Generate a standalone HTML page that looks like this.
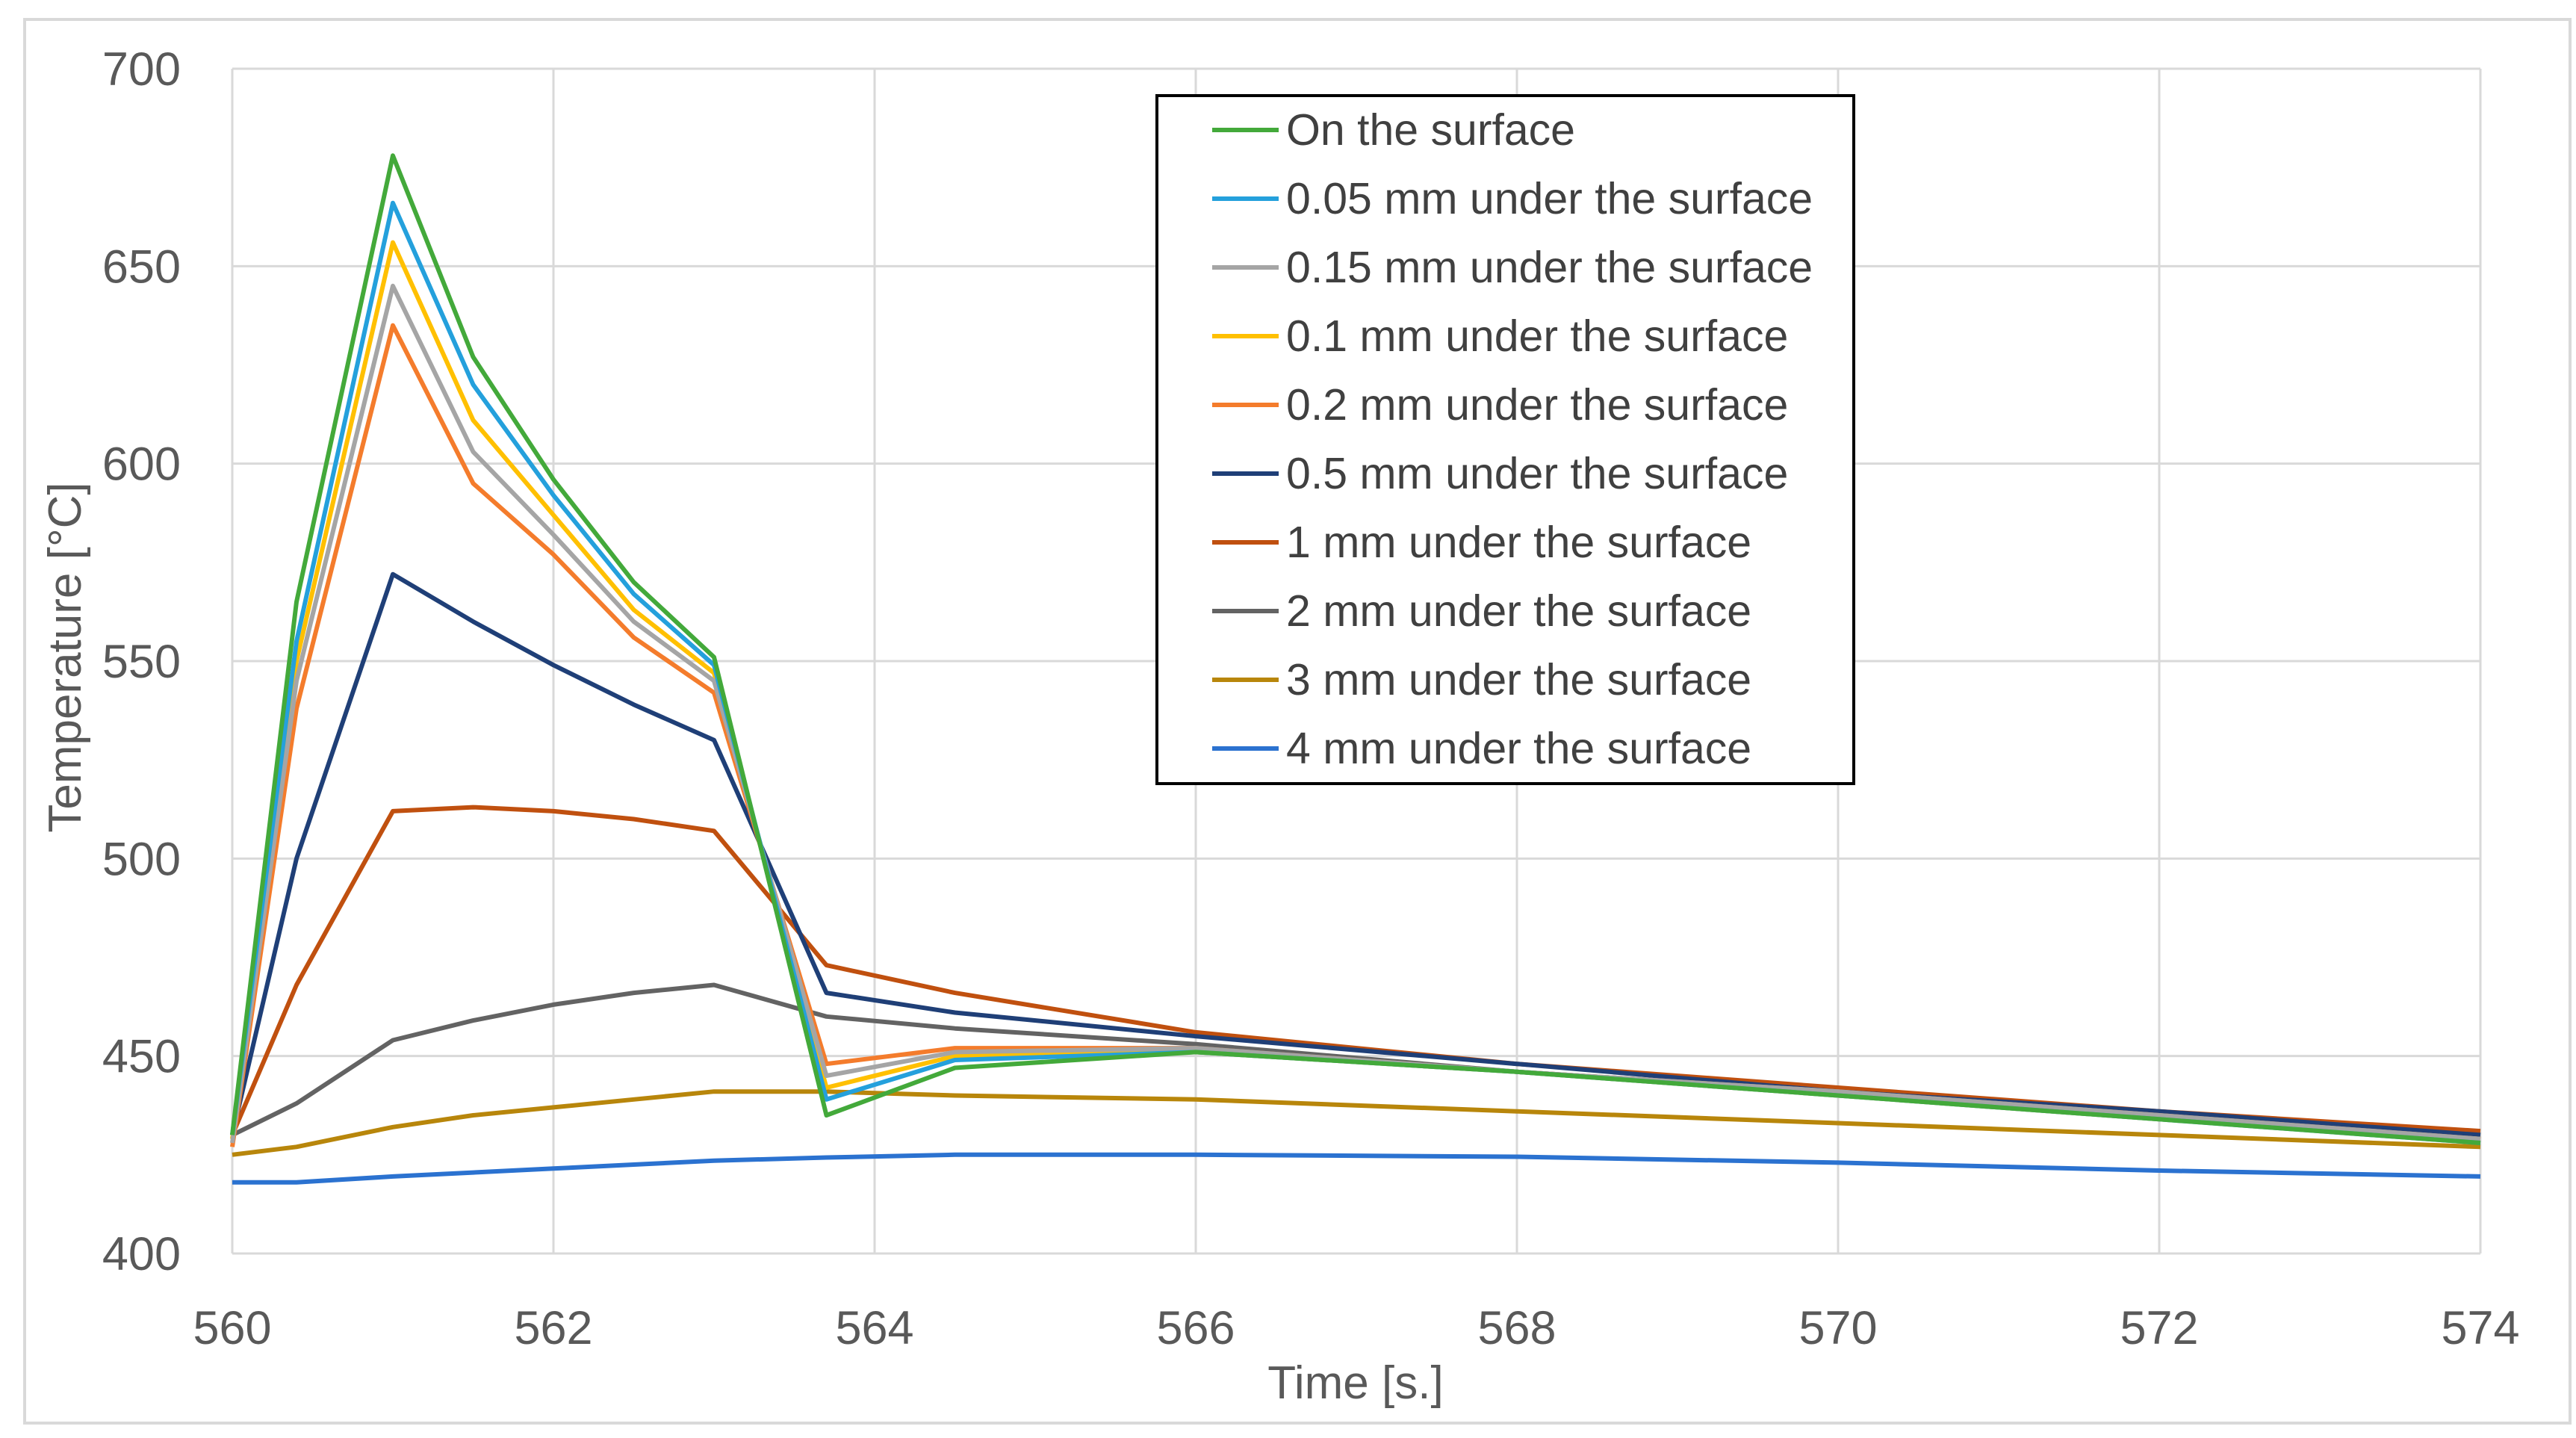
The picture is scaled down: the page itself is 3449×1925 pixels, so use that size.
<!DOCTYPE html>
<html><head><meta charset="utf-8">
<style>
html,body{margin:0;padding:0;background:#fff;}
svg{display:block;font-family:"Liberation Sans",sans-serif;}
</style></head>
<body>
<svg id="chart" width="3449" height="1925" viewBox="0 0 3449 1925" xmlns="http://www.w3.org/2000/svg">
<rect x="33" y="26" width="3408" height="1879" fill="#fff" stroke="#d9d9d9" stroke-width="4"/>
<g id="grid"></g>
<g id="series"></g>
<g id="axes"></g>
<g id="legend"></g>
</svg>
<script>
const times = [560,560.4,561,561.5,562,562.5,563,563.7,564.5,566,568,570,572,574];
const seriesNames = ["On the surface","0.05 mm under the surface","0.15 mm under the surface","0.1 mm under the surface","0.2 mm under the surface","0.5 mm under the surface","1 mm under the surface","2 mm under the surface","3 mm under the surface","4 mm under the surface"];
const sSurface = [430,565,678,627,596,570,551,435,447,451,446,440,434,428];
const s005 = [430,555,666,620,592,567,549,439,449,451,446,440,434,428];
const s015 = [428,545,645,603,582,560,545,445,451,452,446,441,435,429];
const s01 = [429,550,656,611,587,563,547,442,450,451,446,440,434,429];
const s02 = [427,538,635,595,577,556,542,448,452,452,446,441,435,429];
const s05 = [430,500,572,560,549,539,530,466,461,455,448,441,436,430];
const s1 = [430,468,512,513,512,510,507,473,466,456,448,442,436,431];
const s2 = [430,438,454,459,463,466,468,460,457,453,446,441,435,430];
const s3 = [425,427,432,435,437,439,441,441,440,439,436,433,430,427];
const s4 = [418,418,419.5,420.5,421.5,422.5,423.5,424.3,425,425,424.5,423,421,419.5];
const seriesValues = [sSurface,s005,s015,s01,s02,s05,s1,s2,s3,s4];
const colors = ["#43a93a","#24a0dc","#a5a5a5","#ffc000","#f47c2c","#1f3f77","#c0500f","#636363","#b8860b","#2b72d0"];
const xTicks = [560,562,564,566,568,570,572,574];
const yTicks = [400,450,500,550,600,650,700];

const NS="http://www.w3.org/2000/svg";
const X0=311,X1=3321,Y0=1678,Y1=92;
const xs=t=>X0+(t-560)/(574-560)*(X1-X0);
const ys=v=>Y0-(v-400)/(700-400)*(Y0-Y1);
function mk(tag,attrs,parent){const e=document.createElementNS(NS,tag);for(const k in attrs)e.setAttribute(k,attrs[k]);parent.appendChild(e);return e;}
const grid=document.getElementById('grid'),axes=document.getElementById('axes'),ser=document.getElementById('series'),leg=document.getElementById('legend');

yTicks.forEach(v=>{
  const l=mk('line',{x1:X0,x2:X1,y1:ys(v),y2:ys(v),stroke:'#d9d9d9','stroke-width':3},grid);
  
  
  const t=mk('text',{x:242,y:ys(v)+22,'text-anchor':'end','font-size':63,fill:'#595959'},axes);
  t.textContent=v;
  
  
});
xTicks.forEach(v=>{
  const l=mk('line',{x1:xs(v),x2:xs(v),y1:Y1,y2:Y0,stroke:'#d9d9d9','stroke-width':3},grid);
  
  
  const t=mk('text',{x:xs(v),y:1799,'text-anchor':'middle','font-size':63,fill:'#595959'},axes);
  t.textContent=v;
  
  
});
const xt=mk('text',{x:1815,y:1872,'text-anchor':'middle','font-size':62,fill:'#595959'},axes);
xt.textContent='Time [s.]';


const yt=mk('text',{x:0,y:0,'text-anchor':'middle','font-size':62,fill:'#595959',transform:'translate(108,880) rotate(-90)'},axes);
yt.textContent='Temperature [°C]';



for(let i=seriesValues.length-1;i>=0;i--){
  const d=seriesValues[i].map((v,j)=>(j?'L':'M')+xs(times[j]).toFixed(1)+','+ys(v).toFixed(1)).join(' ');
  const p=mk('path',{d:d,fill:'none',stroke:colors[i],'stroke-width':6,'stroke-linejoin':'round'},ser);
  
  
}

const lb=mk('rect',{x:1549,y:128,width:933,height:921,fill:'#fff',stroke:'#000','stroke-width':4},leg);


seriesNames.forEach((n,i)=>{
  const y=174+i*92;
  const l=mk('line',{x1:1623,x2:1712,y1:y,y2:y,stroke:colors[i],'stroke-width':6},leg);
  
  
  const t=mk('text',{x:1722,y:y+20,'font-size':59,fill:'#404040'},leg);
  t.textContent=n;
  
  
});
</script>
</body></html>
